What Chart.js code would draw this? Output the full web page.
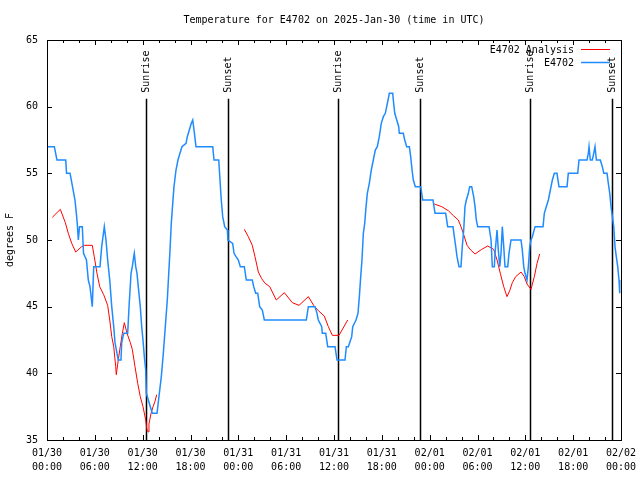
<!DOCTYPE html>
<html>
<head>
<meta charset="utf-8">
<title>Temperature for E4702</title>
<script src="https://cdn.jsdelivr.net/npm/chart.js@4.4.1/dist/chart.umd.min.js"></script>
<style>
  html, body { margin: 0; padding: 0; background: #fff; }
</style>
</head>
<body>
<canvas id="chart" width="640" height="480"></canvas>
<script>
// hours since 01/30 00:00 UTC
const obsHours = [0.0, 0.92, 1.25, 2.35, 2.45, 2.89, 3.20, 3.51, 3.68, 3.80, 3.93, 4.08, 4.43, 4.58, 4.95, 5.18, 5.39, 5.68, 5.86, 6.65,
  6.86, 7.19, 7.40, 7.61, 7.87, 8.12, 8.37, 8.53, 8.78, 8.94, 9.28, 9.37, 9.62, 10.12, 10.29, 10.54, 10.70, 10.88, 10.95, 11.13,
  11.29, 11.45, 11.70, 11.88, 12.04, 12.21, 12.38, 12.46, 12.71, 12.96, 13.21, 13.80, 14.09, 14.34, 14.59, 14.84, 15.09, 15.27, 15.43, 15.59,
  15.77, 15.93, 16.18, 16.43, 16.68, 16.93, 17.44, 17.60, 17.85, 18.10, 18.28, 18.44, 18.69, 20.79, 20.95, 21.54, 21.70, 21.86, 22.04, 22.29,
  22.62, 22.70, 23.29, 23.46, 23.71, 24.00, 24.25, 24.75, 25.00, 25.75, 25.93, 26.18, 26.43, 26.68, 27.01, 27.26, 32.53, 32.78, 33.62, 33.87,
  34.03, 34.46, 34.53, 34.96, 35.21, 36.13, 36.38, 37.38, 37.55, 37.80, 38.22, 38.35, 38.76, 39.01, 39.18, 39.35, 39.51, 39.68, 39.85, 40.02,
  40.18, 40.43, 40.68, 40.93, 41.18, 41.43, 41.68, 41.93, 42.19, 42.44, 42.61, 42.78, 42.94, 43.37, 43.44, 43.62, 43.87, 44.12, 44.19, 44.69,
  44.87, 45.12, 45.45, 45.62, 45.79, 45.95, 46.20, 46.88, 47.13, 48.42, 48.67, 50.01, 50.26, 50.93, 51.09, 51.27, 51.43, 51.68, 51.93, 52.09,
  52.27, 52.43, 52.60, 52.85, 53.02, 53.27, 53.52, 53.69, 53.85, 54.03, 55.45, 55.70, 55.86, 56.11, 56.20, 56.45, 56.61, 56.79, 56.95, 57.11,
  57.29, 57.45, 57.79, 57.95, 58.20, 59.46, 59.62, 59.80, 59.96, 60.21, 60.38, 60.55, 60.71, 60.88, 61.22, 62.22, 62.38, 62.63, 62.89, 63.14,
  63.39, 63.64, 63.97, 64.22, 65.23, 65.39, 66.57, 66.73, 67.74, 67.90, 67.99, 68.15, 68.40, 68.58, 68.74, 68.91, 69.41, 69.66, 69.84, 70.25,
  70.41, 70.59, 70.75, 70.92, 71.09, 71.25, 71.41, 71.59, 71.75, 71.84];
const obsTemps = [57, 57, 56, 56, 55, 55, 54, 53, 52, 51.2, 50, 51, 51, 49, 48.5, 47, 46.5, 45, 48, 48,
  49.5, 51, 50, 48.5, 47, 45, 43.5, 42.3, 41.5, 41, 41, 42.3, 43, 43, 45, 47.5, 48, 48.75, 49, 48,
  47.5, 46.5, 45, 43.5, 42.5, 41.25, 40.25, 38.5, 38, 37.5, 37, 37, 38.5, 39.75, 41.5, 43.5, 45.5, 47.5, 49.25, 51.25,
  52.75, 54, 55.25, 56, 56.5, 57, 57.25, 57.75, 58.25, 58.75, 59, 58.25, 57, 57, 56, 56, 54.5, 53, 51.75, 51,
  50.75, 50, 49.75, 49, 48.75, 48.5, 48, 48, 47, 47, 46.5, 46, 46, 45, 44.75, 44, 44, 45, 45, 44.5,
  44, 43.5, 43, 43, 42, 42, 41, 41, 42, 42, 42.75, 43.5, 44, 44.5, 45.75, 47.25, 48.5, 50.5, 51.25, 52.5,
  53.5, 54.25, 55.25, 56, 56.75, 57, 57.75, 58.75, 59.25, 59.5, 60, 60.5, 61, 61, 60.5, 59.5, 59, 58.5, 58, 58,
  57.5, 57, 57, 56.25, 55.25, 54.5, 54, 54, 53, 53, 52, 52, 51, 51, 50.25, 49.5, 48.75, 48, 48, 49.5,
  50.75, 52.5, 53, 53.5, 54, 54, 53.25, 52.5, 51.5, 51, 51, 50, 48, 48, 49, 50.75, 49.25, 48, 49, 51,
  49.5, 48, 48, 49, 50, 50, 49.25, 48, 47.5, 47, 48, 49.5, 50, 50.25, 51, 51, 52, 52.5, 53, 53.75,
  54.5, 55, 55, 54, 54, 55, 55, 56, 56, 56.5, 57, 56, 56, 56.5, 57, 56, 56, 55.5, 55, 55,
  54.25, 53.5, 52.5, 51.75, 51, 49.5, 48.75, 48, 47, 46];

// analysis: three runs, null breaks the line between them
const anaHours = [0.66, 1.67, 2.30, 2.67, 3.10, 3.60, 4.35, 4.68, 5.68, 5.93, 6.27, 6.61, 7.11, 7.61, 7.87, 8.12, 8.37, 8.62, 8.69, 8.94,
  9.19, 9.45, 9.70, 10.04, 10.45, 10.70, 11.04, 11.38, 11.70, 12.04, 12.38, 12.54, 12.71, 12.79, 13.05, 13.30, 13.55, 13.76,
  19.0,
  24.75, 25.25, 25.75, 26.09, 26.51, 26.93, 27.35, 27.94, 28.76, 29.77, 30.77, 31.61, 32.78, 33.45, 34.03, 34.78, 35.29, 35.79, 36.63, 37.72,
  43.0,
  48.58, 49.51, 50.34, 51.02, 51.59, 51.93, 52.27, 52.69, 53.15, 53.69, 54.53, 55.28, 56.03, 56.45, 56.86, 57.29, 57.70, 58.04, 58.37, 58.79,
  59.46, 59.87, 60.21, 60.71, 61.13, 61.47, 61.80];
const anaTemps = [51.7, 52.3, 51.3, 50.5, 49.75, 49.1, 49.5, 49.6, 49.6, 48.75, 47.5, 46.5, 45.9, 45.1, 44, 42.75, 42, 40.5, 39.9, 41,
  42, 43, 43.8, 43, 42.3, 41.8, 40.5, 39.25, 38.25, 37.5, 36.5, 35.75, 35.6, 36.2, 37, 37.5, 37.9, 38.4,
  null,
  50.8, 50.25, 49.6, 48.75, 47.6, 47.1, 46.75, 46.5, 45.5, 46.05, 45.3, 45.1, 45.75, 45.1, 44.7, 44.3, 43.5, 42.85, 42.85, 44,
  null,
  52.7, 52.5, 52.2, 51.8, 51.5, 51, 50.4, 49.6, 49.25, 48.95, 49.3, 49.55, 49.3, 48.5, 47.5, 46.5, 45.75, 46.2, 46.8, 47.25,
  47.6, 47.25, 46.7, 46.3, 47.25, 48.25, 48.95];

const sunHours = [12.42, 22.74, 36.54, 46.83, 60.55, 70.91];
const sunLabels = ['Sunrise', 'Sunset', 'Sunrise', 'Sunset', 'Sunrise', 'Sunset'];
const sunLineTop = 60.6;

const xTickDates = ['01/30', '01/30', '01/30', '01/30', '01/31', '01/31', '01/31', '01/31', '02/01', '02/01', '02/01', '02/01', '02/02'];
const xTickTimes = ['00:00', '06:00', '12:00', '18:00', '00:00', '06:00', '12:00', '18:00', '00:00', '06:00', '12:00', '18:00', '00:00'];

const FONT = "'DejaVu Sans Mono', 'Liberation Mono', monospace";
const RED = '#ff0000';
const BLUE = '#1e8cff';

function toPoints(xs, ys) {
    return xs.map((x, i) => ({ x: x, y: ys[i] }));
}

// Sunrise / sunset markers, under the data lines
const sunPlugin = {
    id: 'sunLines',
    beforeDatasetsDraw(chart) {
        const ctx = chart.ctx;
        const xs = chart.scales.x, ys = chart.scales.y;
        const yBot = ys.getPixelForValue(35);
        const yTop = ys.getPixelForValue(sunLineTop);
        ctx.save();
        ctx.strokeStyle = '#000';
        ctx.lineWidth = 1.5;
        ctx.fillStyle = '#000';
        ctx.font = '10px ' + FONT;
        sunHours.forEach((h, i) => {
            const px = Math.round(xs.getPixelForValue(h)) + 0.5;
            ctx.beginPath();
            ctx.moveTo(px, yBot);
            ctx.lineTo(px, yTop);
            ctx.stroke();
            ctx.save();
            ctx.translate(px, yTop - 6);
            ctx.rotate(-Math.PI / 2);
            ctx.textAlign = 'left';
            ctx.textBaseline = 'middle';
            ctx.fillText(sunLabels[i], 0, 0);
            ctx.restore();
        });
        ctx.restore();
    }
};

// gnuplot style frame, inward ticks, title, y label and key
const framePlugin = {
    id: 'frame',
    afterDraw(chart) {
        const ctx = chart.ctx;
        const a = chart.chartArea;
        const xs = chart.scales.x, ys = chart.scales.y;
        ctx.save();
        ctx.strokeStyle = '#000';
        ctx.lineWidth = 1;
        ctx.strokeRect(a.left + 0.5, a.top + 0.5, a.right - a.left, a.bottom - a.top);

        ctx.beginPath();
        for (let h = 0; h <= 72; h += 2) {
            const px = Math.round(xs.getPixelForValue(h)) + 0.5;
            const len = h % 6 === 0 ? 5 : 3;
            ctx.moveTo(px, a.bottom);
            ctx.lineTo(px, a.bottom - len);
            ctx.moveTo(px, a.top);
            ctx.lineTo(px, a.top + len);
        }
        for (let v = 35; v <= 65; v += 5) {
            const py = Math.round(ys.getPixelForValue(v)) + 0.5;
            ctx.moveTo(a.left, py);
            ctx.lineTo(a.left + 5, py);
            ctx.moveTo(a.right, py);
            ctx.lineTo(a.right - 5, py);
        }
        ctx.stroke();

        ctx.fillStyle = '#000';
        ctx.font = '10px ' + FONT;
        ctx.textAlign = 'center';
        ctx.textBaseline = 'middle';
        ctx.fillText('Temperature for E4702 on 2025-Jan-30 (time in UTC)', (a.left + a.right) / 2, 20);

        ctx.save();
        ctx.translate(10, 240);
        ctx.rotate(-Math.PI / 2);
        ctx.fillText('degrees F', 0, 0);
        ctx.restore();

        // key
        const keyX = 574, lineX0 = 581, lineX1 = 610;
        const rows = [['E4702 Analysis', RED, 1, 50], ['E4702', BLUE, 1.5, 63]];
        ctx.textAlign = 'right';
        rows.forEach(r => {
            ctx.fillStyle = '#000';
            ctx.fillText(r[0], keyX, r[3]);
            ctx.strokeStyle = r[1];
            ctx.lineWidth = r[2];
            ctx.beginPath();
            ctx.moveTo(lineX0, Math.round(r[3]) - 0.5);
            ctx.lineTo(lineX1, Math.round(r[3]) - 0.5);
            ctx.stroke();
        });
        ctx.restore();
    }
};

new Chart(document.getElementById('chart'), {
    type: 'line',
    data: {
        datasets: [{
            label: 'E4702 Analysis',
            data: toPoints(anaHours, anaTemps),
            borderColor: RED,
            borderWidth: 1,
            pointRadius: 0,
            tension: 0,
            spanGaps: false,
            order: 1
        }, {
            label: 'E4702',
            data: toPoints(obsHours, obsTemps),
            borderColor: BLUE,
            borderWidth: 1.5,
            pointRadius: 0,
            tension: 0,
            order: 0
        }]
    },
    options: {
        responsive: false,
        animation: false,
        devicePixelRatio: 1,
        layout: { padding: { top: 40, right: 19, left: 0, bottom: 0 } },
        plugins: {
            legend: { display: false },
            title: { display: false },
            tooltip: { enabled: false }
        },
        scales: {
            x: {
                type: 'linear',
                min: 0,
                max: 72,
                grid: { display: false, drawTicks: false },
                border: { display: false },
                afterFit: s => { s.height = 40; s.paddingLeft = 0; s.paddingRight = 0; },
                ticks: {
                    stepSize: 6,
                    autoSkip: false,
                    maxRotation: 0,
                    padding: 6,
                    color: '#000',
                    font: { family: FONT, size: 10, lineHeight: 1.4 },
                    callback: v => {
                        const i = Math.round(v / 6);
                        return [xTickDates[i], xTickTimes[i]];
                    }
                }
            },
            y: {
                min: 35,
                max: 65,
                grid: { display: false, drawTicks: false },
                border: { display: false },
                afterFit: s => { s.width = 47; },
                ticks: {
                    stepSize: 5,
                    padding: 9,
                    color: '#000',
                    font: { family: FONT, size: 10 }
                }
            }
        }
    },
    plugins: [sunPlugin, framePlugin]
});
</script>
</body>
</html>
